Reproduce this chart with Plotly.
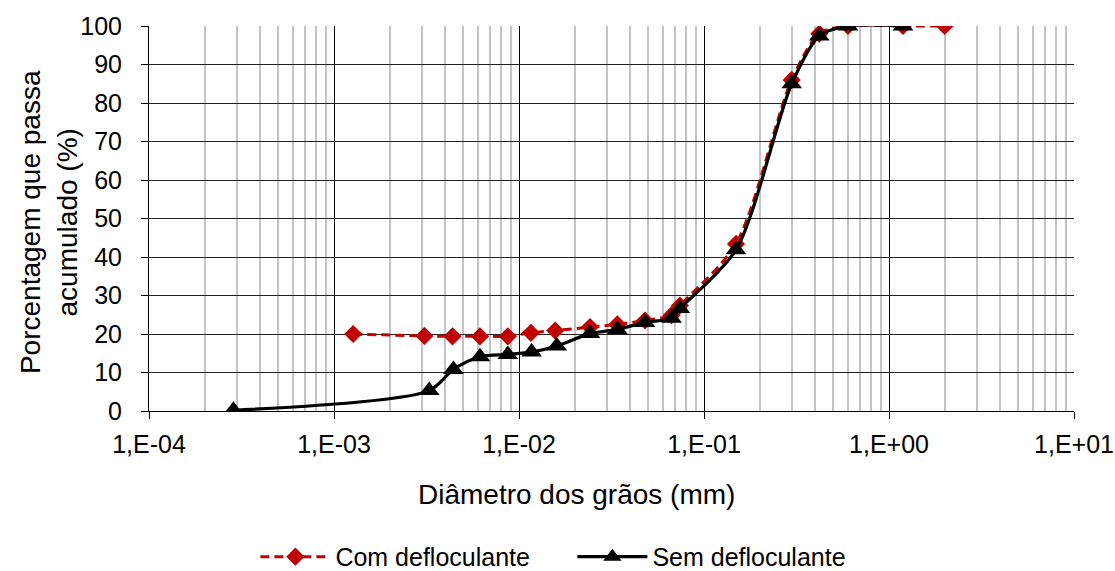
import plotly.graph_objects as go

# Grain-size distribution (sedimentation + sieving), with and without deflocculant
com_diam = [0.00127, 0.00308, 0.00437, 0.00615, 0.0087, 0.0116, 0.0157, 0.0242, 0.034,
            0.048, 0.0668, 0.0741, 0.149, 0.298, 0.42, 0.6, 1.19, 2.0]
com_pct = [20.0, 19.5, 19.4, 19.4, 19.4, 20.3, 20.9, 21.8, 22.5,
           23.5, 24.9, 27.4, 43.4, 86.0, 98.0, 100.0, 100.0, 100.0]

sem_diam = [0.000286, 0.00327, 0.00442, 0.00615, 0.0087, 0.0117, 0.0160, 0.0242, 0.034,
            0.048, 0.0668, 0.0741, 0.149, 0.298, 0.42, 0.6, 1.19]
sem_pct = [0.2, 5.3, 10.8, 14.1, 14.7, 15.3, 16.9, 20.1, 21.2,
           23.0, 24.1, 26.6, 41.9, 85.0, 97.4, 100.0, 100.0]

x_tickvals = [1e-4, 1e-3, 1e-2, 1e-1, 1e0, 1e1]
x_ticktext = ["1,E-04", "1,E-03", "1,E-02", "1,E-01", "1,E+00", "1,E+01"]
x_minor = [k * 10.0 ** e for e in range(-4, 1) for k in range(2, 10)]

FONT = "Liberation Sans, Arial, sans-serif"

fig = go.Figure()
fig.add_trace(go.Scatter(
    x=com_diam, y=com_pct, name="Com defloculante", mode="lines+markers",
    line=dict(color="#C00000", width=3, dash="9px,5px", shape="spline", smoothing=0.8),
    marker=dict(symbol="diamond", size=14, color="#C00000"),
))
fig.add_trace(go.Scatter(
    x=sem_diam, y=sem_pct, name="Sem defloculante", mode="lines+markers",
    line=dict(color="#000000", width=3.2, shape="spline", smoothing=0.8),
    marker=dict(symbol="triangle-up", size=18, color="#000000"),
))

fig.update_layout(
    width=1115, height=571,
    margin=dict(l=149, r=41, t=26, b=160, autoexpand=False),
    paper_bgcolor="white", plot_bgcolor="white",
    font=dict(family=FONT, size=25, color="#000000"),
    showlegend=True,
    legend=dict(orientation="h", x=0.115, xanchor="left", y=-0.379, yanchor="middle",
                font=dict(size=25), itemwidth=70, entrywidth=232, entrywidthmode="pixels",
                tracegroupgap=0, bgcolor="rgba(0,0,0,0)"),
    annotations=[
        dict(text="Diâmetro dos grãos (mm)", xref="paper", yref="paper",
             x=0.4627, y=-0.218, xanchor="center", yanchor="middle",
             showarrow=False, font=dict(size=28)),
        dict(text="Porcentagem que passa<br>acumulado (%)", xref="paper", yref="paper",
             x=-0.108, y=0.491, xanchor="center", yanchor="middle", textangle=-90,
             showarrow=False, font=dict(size=28)),
    ],
)

fig.update_xaxes(
    type="log", range=[-4, 1],
    tickvals=x_tickvals, ticktext=x_ticktext,
    ticks="outside", ticklen=7, tickcolor="#000000",
    showline=True, linecolor="#000000", linewidth=1,
    showgrid=True, gridcolor="#000000", gridwidth=1,
    minor=dict(tickvals=x_minor, showgrid=True, gridcolor="#C4C4C4", gridwidth=1.5, ticks=""),
    tickfont=dict(size=25), zeroline=False, ticklabelstandoff=4,
)
fig.update_yaxes(
    range=[0, 100], dtick=10, tick0=0,
    ticks="outside", ticklen=7, tickcolor="#000000",
    showline=True, linecolor="#000000", linewidth=1,
    showgrid=True, gridcolor="#222222", gridwidth=1,
    tickfont=dict(size=25), zeroline=False, ticklabelstandoff=14,
)

fig.write_html("out.html")
